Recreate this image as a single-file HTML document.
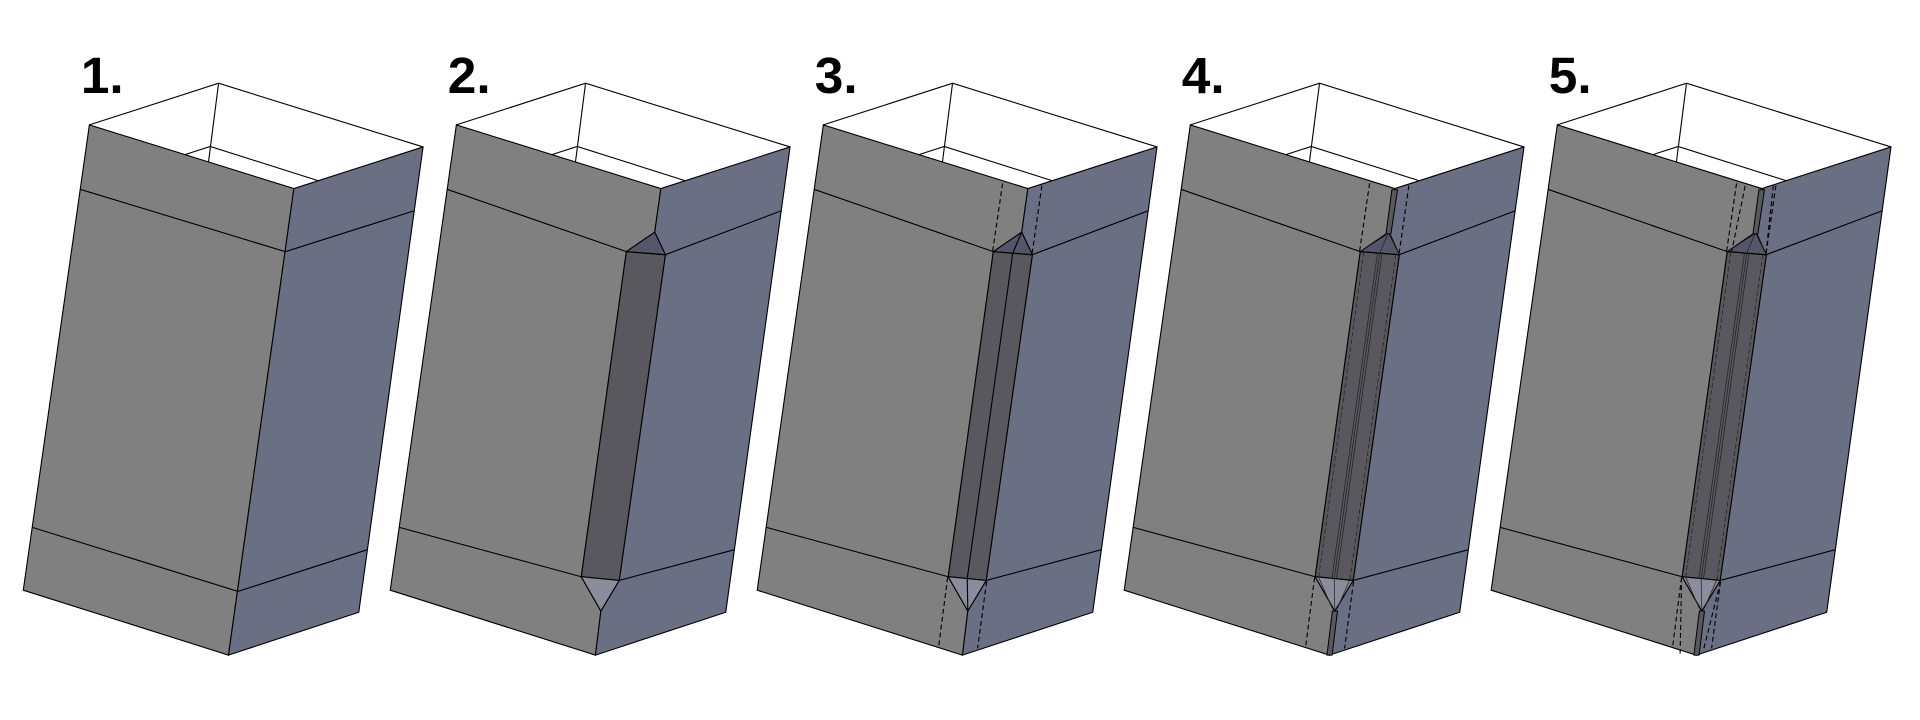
<!DOCTYPE html>
<html><head><meta charset="utf-8"><title>Groove steps</title>
<style>
html,body{margin:0;padding:0;background:#fff;width:1920px;height:720px;overflow:hidden}
svg{display:block}
text{font-family:"Liberation Sans",sans-serif;font-weight:600}
</style></head>
<body>
<svg id="fig" width="1920" height="720" viewBox="0 0 1568 588" preserveAspectRatio="none" xmlns="http://www.w3.org/2000/svg"></svg>
<script>
const stepLabels = ["1.", "2.", "3.", "4.", "5."];
const stepGroove = [0, 1, 1, 1, 1];
const stepDashes = [0, 0, 1, 1, 2];
const stepStrips = [0, 0, 0, 1, 1];
const stepInner = [0, 0, 0, 1, 1];
const boxStep = 299.7;

const NS = "http://www.w3.org/2000/svg";
const svg = document.getElementById("fig");
function el(tag, attrs, parent) {
  const e = document.createElementNS(NS, tag);
  for (const k in attrs) e.setAttribute(k, attrs[k]);
  (parent || svg).appendChild(e);
  return e;
}
function pts(arr, dx) { return arr.map(p => (p[0] + dx).toFixed(1) + "," + p[1]).join(" "); }

const A=[178.5,68], B=[73,102], C=[345.5,120], F=[240,154];
const BF=[186.6,535], BL=[19,482], BR=[293,500];
const P1=[235,189.6], GLT=[211.8,205.5], GRT=[243.7,208], GLB=[175,471], GRB=[206,474], GA=[191,499];
const lineStyle = {stroke:"#000","stroke-width":0.9,fill:"none"};
const thinStyle = {stroke:"#222","stroke-width":0.6,fill:"none"};

stepLabels.forEach((lab, i) => {
  const dx = i * boxStep;
  const g = el("g", {});
  
  

  const t = el("text", {x: 66 + dx, y: 76, "font-size": 42, fill: "#000"}, g);
  t.textContent = lab;
  
  

  const rim = el("polyline", Object.assign({points: pts([B,A,C], dx)}, lineStyle), g);
  
  
  el("polyline", Object.assign({points: pts([A,[170.3,132]], dx)}, lineStyle), g);
  el("polyline", Object.assign({points: pts([[151,126.3],[171.7,119.6],[260,147.6]], dx)}, lineStyle), g);

  const gr = stepGroove[i];
  const front = gr ? [B,F,P1,GLT,GLB,GA,BF,BL] : [B,F,BF,BL];
  const right = gr ? [F,C,BR,BF,GA,GRB,GRT,P1] : [F,C,BR,BF];
  const fp = el("polygon", {points: pts(front, dx), fill:"#808080", stroke:"#000","stroke-width":0.9}, g);
  
  
  const rp = el("polygon", {points: pts(right, dx), fill:"#6b6f84", stroke:"#000","stroke-width":0.9}, g);
  
  

  if (gr) {
    el("polyline", Object.assign({points: pts([[65.4,154.6],GLT], dx)}, lineStyle), g);
    el("polyline", Object.assign({points: pts([GRT,[338.7,172]], dx)}, lineStyle), g);
    el("polyline", Object.assign({points: pts([[26.4,430.7],GLB], dx)}, lineStyle), g);
    el("polyline", Object.assign({points: pts([GRB,[299.7,449]], dx)}, lineStyle), g);
  } else {
    el("polyline", Object.assign({points: pts([[65.4,154.6],[233,205.5],[338.7,172]], dx)}, lineStyle), g);
    el("polyline", Object.assign({points: pts([[26.4,430.7],[194.3,483],[299.7,449]], dx)}, lineStyle), g);
  }

  if (gr) {
    const gp = el("polygon", {points: pts([GLT,GRT,GRB,GLB], dx), fill:"#58585e", stroke:"#000","stroke-width":0.9}, g);
    
    
    const tp = el("polygon", {points: pts([P1,GLT,GRT], dx), fill:"#545769", stroke:"#000","stroke-width":0.9}, g);
    
    
    el("polyline", Object.assign({points: pts([GLT,GRT], dx), "stroke-dasharray":"4 2"}, lineStyle), g);
    const bp = el("polygon", {points: pts([GLB,GRB,GA], dx), fill:"#8b8c9c", stroke:"#000","stroke-width":0.9}, g);
    
    
  }

  if (stepDashes[i] >= 1) {
    el("polyline", Object.assign({points: pts([P1,[227.7,206.7],[190.5,472.5],GA], dx)}, stepInner[i] ? thinStyle : lineStyle), g);
    const d = Object.assign({"stroke-dasharray":"4 2.5"}, lineStyle);
    for (let k = 0; k < stepDashes[i]; k++) {
      const o = k * 7;
      const fd = el("polyline", Object.assign({points: pts([[219.4+o,149.7+o*0.3],[211.2+o*0.6,205.5]], dx)}, d), g);
      
      
      el("polyline", Object.assign({points: pts([[251.5-o*0.3,151.5],[243.3,208.3]], dx)}, d), g);
      el("polyline", Object.assign({points: pts([[174.5,471.5],[167+o*0.9,529.5+o*0.6]], dx)}, d), g);
      el("polyline", Object.assign({points: pts([[206.3,475],[199-o*0.9,529.5]], dx)}, d), g);
    }
  }

  if (stepInner[i]) {
    const d = Object.assign({"stroke-dasharray":"4 2"}, thinStyle);
    el("polyline", Object.assign({points: pts([[214.6,206],[177.8,471.5]], dx)}, d), g);
    el("polyline", Object.assign({points: pts([[240.8,208],[203.2,474]], dx)}, d), g);
    el("polyline", Object.assign({points: pts([[225.8,207],[188.6,472.5]], dx)}, thinStyle), g);
    el("polyline", Object.assign({points: pts([[229.6,207],[192.4,472.5]], dx)}, thinStyle), g);
    el("polyline", Object.assign({points: pts([[232.8,192],GLT], dx)}, thinStyle), g);
    el("polyline", Object.assign({points: pts([[236.8,192],GRT], dx)}, thinStyle), g);
    el("polyline", Object.assign({points: pts([[178,472],[189,497]], dx)}, thinStyle), g);
    el("polyline", Object.assign({points: pts([[203,474],[193,497]], dx)}, thinStyle), g);
  }

  if (stepStrips[i]) {
    const s1 = el("polygon", {points: pts([[237.6,155],[242.2,155],[236.8,191],[232.8,191]], dx), fill:"#58585e", stroke:"#000","stroke-width":0.8}, g);
    
    
    const s2 = el("polygon", {points: pts([[189,499],[193.2,499],[188.8,535],[184.6,535]], dx), fill:"#58585e", stroke:"#000","stroke-width":0.8}, g);
    
    
  }
});
</script>
</body></html>
